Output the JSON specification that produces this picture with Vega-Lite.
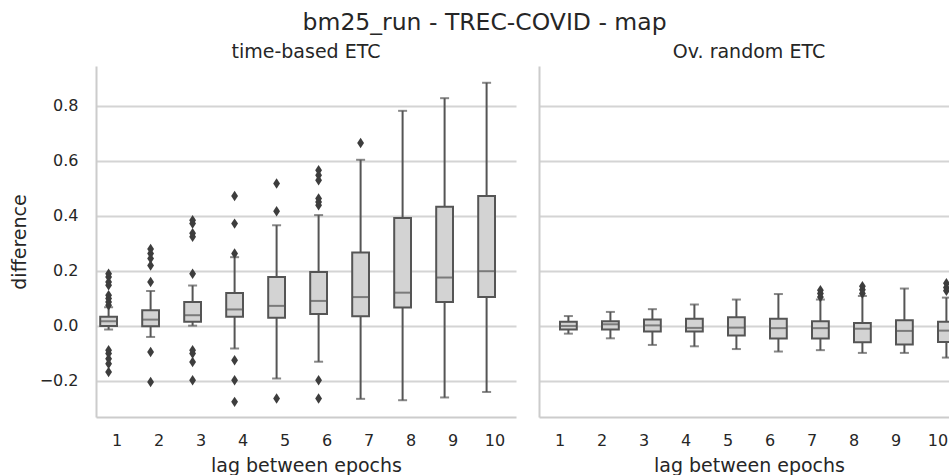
{
  "$schema": "https://vega.github.io/schema/vega-lite/v6.json",
  "padding": {"left": 10, "top": 10, "right": 0, "bottom": 0},
  "background": "white",
  "config": {
    "font": "DejaVu Sans",
    "view": {"stroke": null},
    "axis": {
      "labelColor": "#262626",
      "titleColor": "#262626",
      "titleFontWeight": "normal",
      "domainColor": "#cccccc",
      "domainWidth": 2,
      "gridColor": "#d4d4d4",
      "gridWidth": 2,
      "ticks": false,
      "labelFontSize": 16,
      "titleFontSize": 19
    }
  },
  "title": {"text": "bm25_run - TREC-COVID - map", "fontSize": 23.5, "fontWeight": "normal", "color": "#262626", "anchor": "middle", "offset": 9},
  "datasets": {
    "boxes": [
      {"method": "time-based ETC", "lag": 1, "lower": -0.013, "q1": 0.0, "median": 0.017, "q3": 0.033, "upper": 0.068},
      {"method": "time-based ETC", "lag": 2, "lower": -0.04, "q1": -0.001, "median": 0.023, "q3": 0.057, "upper": 0.127},
      {"method": "time-based ETC", "lag": 3, "lower": 0.001, "q1": 0.015, "median": 0.039, "q3": 0.087, "upper": 0.147},
      {"method": "time-based ETC", "lag": 4, "lower": -0.082, "q1": 0.033, "median": 0.06, "q3": 0.12, "upper": 0.25},
      {"method": "time-based ETC", "lag": 5, "lower": -0.191, "q1": 0.03, "median": 0.073, "q3": 0.178, "upper": 0.366},
      {"method": "time-based ETC", "lag": 6, "lower": -0.13, "q1": 0.043, "median": 0.091, "q3": 0.196, "upper": 0.403},
      {"method": "time-based ETC", "lag": 7, "lower": -0.265, "q1": 0.035, "median": 0.105, "q3": 0.267, "upper": 0.604},
      {"method": "time-based ETC", "lag": 8, "lower": -0.27, "q1": 0.067, "median": 0.121, "q3": 0.392, "upper": 0.782},
      {"method": "time-based ETC", "lag": 9, "lower": -0.26, "q1": 0.087, "median": 0.176, "q3": 0.433, "upper": 0.828},
      {"method": "time-based ETC", "lag": 10, "lower": -0.24, "q1": 0.105, "median": 0.199, "q3": 0.472, "upper": 0.884},
      {"method": "Ov. random ETC", "lag": 1, "lower": -0.028, "q1": -0.013, "median": 0.0, "q3": 0.015, "upper": 0.036},
      {"method": "Ov. random ETC", "lag": 2, "lower": -0.045, "q1": -0.013, "median": 0.006, "q3": 0.017, "upper": 0.051},
      {"method": "Ov. random ETC", "lag": 3, "lower": -0.069, "q1": -0.02, "median": 0.002, "q3": 0.023, "upper": 0.061},
      {"method": "Ov. random ETC", "lag": 4, "lower": -0.074, "q1": -0.02, "median": -0.007, "q3": 0.026, "upper": 0.078},
      {"method": "Ov. random ETC", "lag": 5, "lower": -0.084, "q1": -0.035, "median": -0.006, "q3": 0.032, "upper": 0.096},
      {"method": "Ov. random ETC", "lag": 6, "lower": -0.093, "q1": -0.046, "median": -0.008, "q3": 0.026, "upper": 0.116},
      {"method": "Ov. random ETC", "lag": 7, "lower": -0.088, "q1": -0.046, "median": -0.008, "q3": 0.017, "upper": 0.096},
      {"method": "Ov. random ETC", "lag": 8, "lower": -0.098, "q1": -0.059, "median": -0.01, "q3": 0.011, "upper": 0.109},
      {"method": "Ov. random ETC", "lag": 9, "lower": -0.098, "q1": -0.067, "median": -0.018, "q3": 0.021, "upper": 0.136},
      {"method": "Ov. random ETC", "lag": 10, "lower": -0.115, "q1": -0.058, "median": -0.017, "q3": 0.015, "upper": 0.103}
    ],
    "outliers": [
      {"method": "time-based ETC", "lag": 1, "value": 0.19},
      {"method": "time-based ETC", "lag": 1, "value": 0.178},
      {"method": "time-based ETC", "lag": 1, "value": 0.16},
      {"method": "time-based ETC", "lag": 1, "value": 0.148},
      {"method": "time-based ETC", "lag": 1, "value": 0.112},
      {"method": "time-based ETC", "lag": 1, "value": 0.1},
      {"method": "time-based ETC", "lag": 1, "value": 0.087},
      {"method": "time-based ETC", "lag": 1, "value": 0.075},
      {"method": "time-based ETC", "lag": 1, "value": -0.088},
      {"method": "time-based ETC", "lag": 1, "value": -0.1},
      {"method": "time-based ETC", "lag": 1, "value": -0.119},
      {"method": "time-based ETC", "lag": 1, "value": -0.137},
      {"method": "time-based ETC", "lag": 1, "value": -0.167},
      {"method": "time-based ETC", "lag": 2, "value": 0.28},
      {"method": "time-based ETC", "lag": 2, "value": 0.263},
      {"method": "time-based ETC", "lag": 2, "value": 0.245},
      {"method": "time-based ETC", "lag": 2, "value": 0.22},
      {"method": "time-based ETC", "lag": 2, "value": 0.16},
      {"method": "time-based ETC", "lag": 2, "value": -0.095},
      {"method": "time-based ETC", "lag": 2, "value": -0.204},
      {"method": "time-based ETC", "lag": 3, "value": 0.384},
      {"method": "time-based ETC", "lag": 3, "value": 0.372},
      {"method": "time-based ETC", "lag": 3, "value": 0.337},
      {"method": "time-based ETC", "lag": 3, "value": 0.324},
      {"method": "time-based ETC", "lag": 3, "value": 0.19},
      {"method": "time-based ETC", "lag": 3, "value": -0.088},
      {"method": "time-based ETC", "lag": 3, "value": -0.1},
      {"method": "time-based ETC", "lag": 3, "value": -0.131},
      {"method": "time-based ETC", "lag": 3, "value": -0.197},
      {"method": "time-based ETC", "lag": 4, "value": 0.472},
      {"method": "time-based ETC", "lag": 4, "value": 0.372},
      {"method": "time-based ETC", "lag": 4, "value": 0.263},
      {"method": "time-based ETC", "lag": 4, "value": -0.125},
      {"method": "time-based ETC", "lag": 4, "value": -0.197},
      {"method": "time-based ETC", "lag": 4, "value": -0.276},
      {"method": "time-based ETC", "lag": 5, "value": 0.518},
      {"method": "time-based ETC", "lag": 5, "value": 0.417},
      {"method": "time-based ETC", "lag": 5, "value": -0.264},
      {"method": "time-based ETC", "lag": 6, "value": 0.566},
      {"method": "time-based ETC", "lag": 6, "value": 0.548},
      {"method": "time-based ETC", "lag": 6, "value": 0.53},
      {"method": "time-based ETC", "lag": 6, "value": 0.463},
      {"method": "time-based ETC", "lag": 6, "value": 0.451},
      {"method": "time-based ETC", "lag": 6, "value": 0.439},
      {"method": "time-based ETC", "lag": 6, "value": -0.197},
      {"method": "time-based ETC", "lag": 6, "value": -0.264},
      {"method": "time-based ETC", "lag": 7, "value": 0.665},
      {"method": "Ov. random ETC", "lag": 7, "value": 0.13},
      {"method": "Ov. random ETC", "lag": 7, "value": 0.118},
      {"method": "Ov. random ETC", "lag": 7, "value": 0.105},
      {"method": "Ov. random ETC", "lag": 8, "value": 0.144},
      {"method": "Ov. random ETC", "lag": 8, "value": 0.132},
      {"method": "Ov. random ETC", "lag": 8, "value": 0.118},
      {"method": "Ov. random ETC", "lag": 10, "value": 0.155},
      {"method": "Ov. random ETC", "lag": 10, "value": 0.14},
      {"method": "Ov. random ETC", "lag": 10, "value": 0.128}
    ]
  },
  "spacing": 23,
  "hconcat": [
    {
      "width": 420,
      "height": 351,
      "title": {"text": "time-based ETC", "fontSize": 19, "fontWeight": "normal", "color": "#262626", "baseline": "alphabetic", "offset": -11},
      "data": {"name": "boxes"},
      "transform": [{"filter": "datum.method === 'time-based ETC'"}],
      "encoding": {
        "x": {"field": "lag", "type": "ordinal", "title": "lag between epochs", "scale": {"domain": [1, 2, 3, 4, 5, 6, 7, 8, 9, 10], "paddingInner": 0, "paddingOuter": 0}, "axis": {"labelAngle": 0, "labelPadding": 15, "titlePadding": 8, "grid": false}},
        "xOffset": {"field": "method", "type": "nominal", "scale": {"domain": ["time-based ETC", "Ov. random ETC"], "paddingInner": 0, "paddingOuter": 0.25}}
      },
      "layer": [
        {"mark": {"type": "rule", "color": "#555555", "strokeWidth": 2},
         "encoding": {"y": {"field": "lower", "type": "quantitative", "title": "difference", "scale": {"domain": [-0.331, 0.945], "nice": false, "zero": false}, "axis": {"values": [-0.2, 0, 0.2, 0.4, 0.6, 0.8], "format": ".1f", "labelPadding": 18, "titlePadding": 10, "grid": true}}, "y2": {"field": "upper"}}},
        {"mark": {"type": "bar", "fill": "#d3d3d3", "stroke": "#555555", "strokeWidth": 2},
         "encoding": {"y": {"field": "q1", "type": "quantitative", "title": "difference"}, "y2": {"field": "q3"}}},
        {"mark": {"type": "tick", "color": "#555555", "thickness": 2, "size": 17},
         "encoding": {"y": {"field": "median", "type": "quantitative", "title": "difference"}}},
        {"mark": {"type": "tick", "color": "#555555", "thickness": 2, "size": 9},
         "encoding": {"y": {"field": "lower", "type": "quantitative", "title": "difference"}}},
        {"mark": {"type": "tick", "color": "#555555", "thickness": 2, "size": 9},
         "encoding": {"y": {"field": "upper", "type": "quantitative", "title": "difference"}}},
        {"data": {"name": "outliers"},
         "transform": [{"filter": "datum.method === 'time-based ETC'"}],
         "mark": {"type": "point", "shape": "M0,-1L0.65,0L0,1L-0.65,0Z", "size": 110, "filled": true, "color": "#3d3d3d", "opacity": 1, "strokeWidth": 0},
         "encoding": {"y": {"field": "value", "type": "quantitative", "title": "difference"}}}
      ]
    },
    {
      "width": 420,
      "height": 351,
      "title": {"text": "Ov. random ETC", "fontSize": 19, "fontWeight": "normal", "color": "#262626", "baseline": "alphabetic", "offset": -11},
      "data": {"name": "boxes"},
      "transform": [{"filter": "datum.method === 'Ov. random ETC'"}],
      "encoding": {
        "x": {"field": "lag", "type": "ordinal", "title": "lag between epochs", "scale": {"domain": [1, 2, 3, 4, 5, 6, 7, 8, 9, 10], "paddingInner": 0, "paddingOuter": 0}, "axis": {"labelAngle": 0, "labelPadding": 15, "titlePadding": 8, "grid": false}},
        "xOffset": {"field": "method", "type": "nominal", "scale": {"domain": ["time-based ETC", "Ov. random ETC"], "paddingInner": 0, "paddingOuter": 0.25}}
      },
      "layer": [
        {"mark": {"type": "rule", "color": "#555555", "strokeWidth": 2},
         "encoding": {"y": {"field": "lower", "type": "quantitative", "title": null, "scale": {"domain": [-0.331, 0.945], "nice": false, "zero": false}, "axis": {"values": [-0.2, 0, 0.2, 0.4, 0.6, 0.8], "labels": false, "title": null, "grid": true}}, "y2": {"field": "upper"}}},
        {"mark": {"type": "bar", "fill": "#d3d3d3", "stroke": "#555555", "strokeWidth": 2},
         "encoding": {"y": {"field": "q1", "type": "quantitative", "title": null}, "y2": {"field": "q3"}}},
        {"mark": {"type": "tick", "color": "#555555", "thickness": 2, "size": 17},
         "encoding": {"y": {"field": "median", "type": "quantitative", "title": null}}},
        {"mark": {"type": "tick", "color": "#555555", "thickness": 2, "size": 9},
         "encoding": {"y": {"field": "lower", "type": "quantitative", "title": null}}},
        {"mark": {"type": "tick", "color": "#555555", "thickness": 2, "size": 9},
         "encoding": {"y": {"field": "upper", "type": "quantitative", "title": null}}},
        {"data": {"name": "outliers"},
         "transform": [{"filter": "datum.method === 'Ov. random ETC'"}],
         "mark": {"type": "point", "shape": "M0,-1L0.65,0L0,1L-0.65,0Z", "size": 110, "filled": true, "color": "#3d3d3d", "opacity": 1, "strokeWidth": 0},
         "encoding": {"y": {"field": "value", "type": "quantitative", "title": null}}}
      ]
    }
  ]
}
